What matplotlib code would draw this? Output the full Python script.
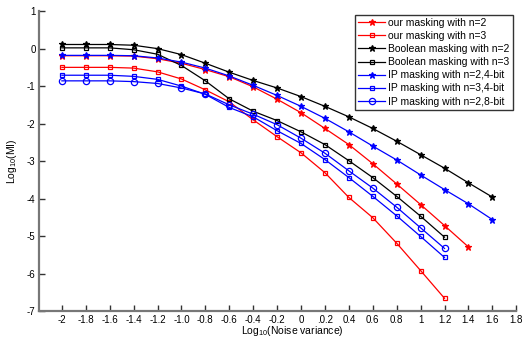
import matplotlib
matplotlib.use("Agg")
import matplotlib.pyplot as plt

plt.rcParams['font.family'] = ['Liberation Sans', 'DejaVu Sans']
plt.rcParams['mathtext.fontset'] = 'custom'
plt.rcParams['mathtext.rm'] = 'Liberation Sans'
plt.rcParams['axes.unicode_minus'] = False

x = [-2.0, -1.8, -1.6, -1.4, -1.2, -1.0, -0.8, -0.6, -0.4, -0.2,
     0.0, 0.2, 0.4, 0.6, 0.8, 1.0, 1.2, 1.4, 1.6]

our_n2 = [-0.19, -0.19, -0.19, -0.20, -0.27, -0.39, -0.56, -0.75, -1.02, -1.35,
          -1.71, -2.13, -2.56, -3.07, -3.61, -4.16, -4.72, -5.29]
our_n3 = [-0.50, -0.50, -0.50, -0.52, -0.62, -0.81, -1.10, -1.42, -1.90, -2.35,
          -2.78, -3.31, -3.97, -4.51, -5.19, -5.92, -6.66]
bool_n2 = [0.11, 0.11, 0.11, 0.09, 0.00, -0.16, -0.39, -0.63, -0.85, -1.05,
           -1.28, -1.54, -1.82, -2.13, -2.47, -2.83, -3.19, -3.58, -3.96]
bool_n3 = [0.02, 0.02, 0.02, -0.03, -0.15, -0.45, -0.86, -1.34, -1.67, -1.92,
           -2.22, -2.56, -2.99, -3.44, -3.94, -4.47, -5.03]
ip_n2_4 = [-0.18, -0.18, -0.18, -0.19, -0.25, -0.36, -0.52, -0.73, -0.98, -1.25,
           -1.54, -1.86, -2.22, -2.60, -2.97, -3.37, -3.76, -4.14, -4.56]
ip_n3_4 = [-0.71, -0.71, -0.71, -0.74, -0.82, -1.00, -1.22, -1.57, -1.82, -2.19,
           -2.53, -2.96, -3.44, -3.94, -4.46, -5.01, -5.57]
ip_n2_8 = [-0.86, -0.86, -0.86, -0.88, -0.93, -1.05, -1.21, -1.50, -1.75, -2.03,
           -2.39, -2.79, -3.26, -3.72, -4.23, -4.78, -5.33]

labels = ["our masking with n=2", "our masking with n=3",
          "Boolean masking with n=2", "Boolean masking with n=3",
          "IP masking with n=2,4-bit", "IP masking with n=3,4-bit",
          "IP masking with n=2,8-bit"]

xticks = [-2, -1.8, -1.6, -1.4, -1.2, -1.0, -0.8, -0.6, -0.4, -0.2,
          0, 0.2, 0.4, 0.6, 0.8, 1.0, 1.2, 1.4, 1.6, 1.8]
xticklabels = ["-2", "-1.8", "-1.6", "-1.4", "-1.2", "-1.0", "-0.8", "-0.6", "-0.4", "-0.2",
               "0", ".0.2", "0.4", "0.6", "0.8", "1", "1.2", "1.4", "1.6", "1.8"]
yticks = [1, 0, -1, -2, -3, -4, -5, -6, -7]

RED = "#FF0000"
BLACK = "#000000"
BLUE = "#0000FF"

fig = plt.figure(figsize=(5.22, 3.37), dpi=100)
ax = fig.add_axes([0.075, 0.077, 0.914, 0.89])

series = [
    (our_n2, RED, "*", 5),
    (our_n3, RED, "s", 3.5),
    (bool_n2, BLACK, "*", 5),
    (bool_n3, BLACK, "s", 3.5),
    (ip_n2_4, BLUE, "*", 5),
    (ip_n3_4, BLUE, "s", 3.5),
    (ip_n2_8, BLUE, "o", 4.5),
]
for (vals, col, mk, ms), lab in zip(series, labels):
    ax.plot(x[:len(vals)], vals, color=col, marker=mk, markersize=ms, lw=0.9,
            markerfacecolor=col if mk == "*" else "none", markeredgecolor=col,
            markeredgewidth=0.9, label=lab)

ax.set_xlim(-2.19, 1.8)
ax.set_ylim(-7, 1)
ax.set_xticks(xticks)
ax.set_xticklabels(xticklabels)
ax.set_yticks(yticks)
ax.tick_params(direction="in", length=4, width=1, labelsize=7, colors="#333333",
               labelcolor="black", pad=2.5)
for s in ("top", "right"):
    ax.spines[s].set_visible(False)
for s in ("left", "bottom"):
    ax.spines[s].set_color("#777777")
    ax.spines[s].set_linewidth(1.6)

ax.set_xlabel("Log$_{10}$(Noise variance)", fontsize=7.5, va="center")
ax.set_ylabel("Log$_{10}$(MI)", fontsize=7.5, va="center")
ax.xaxis.set_label_coords(0.53, -0.068)
ax.yaxis.set_label_coords(-0.057, 0.5)

leg = ax.legend(loc="upper right", bbox_to_anchor=(0.997, 0.995), fontsize=7.5,
                frameon=True, fancybox=False, handlelength=2.6, handletextpad=0.3,
                labelspacing=0.3, borderpad=0.3, borderaxespad=0.2)
leg.get_frame().set_edgecolor("black")
leg.get_frame().set_linewidth(1.0)

fig.savefig("out.png", dpi=100)
